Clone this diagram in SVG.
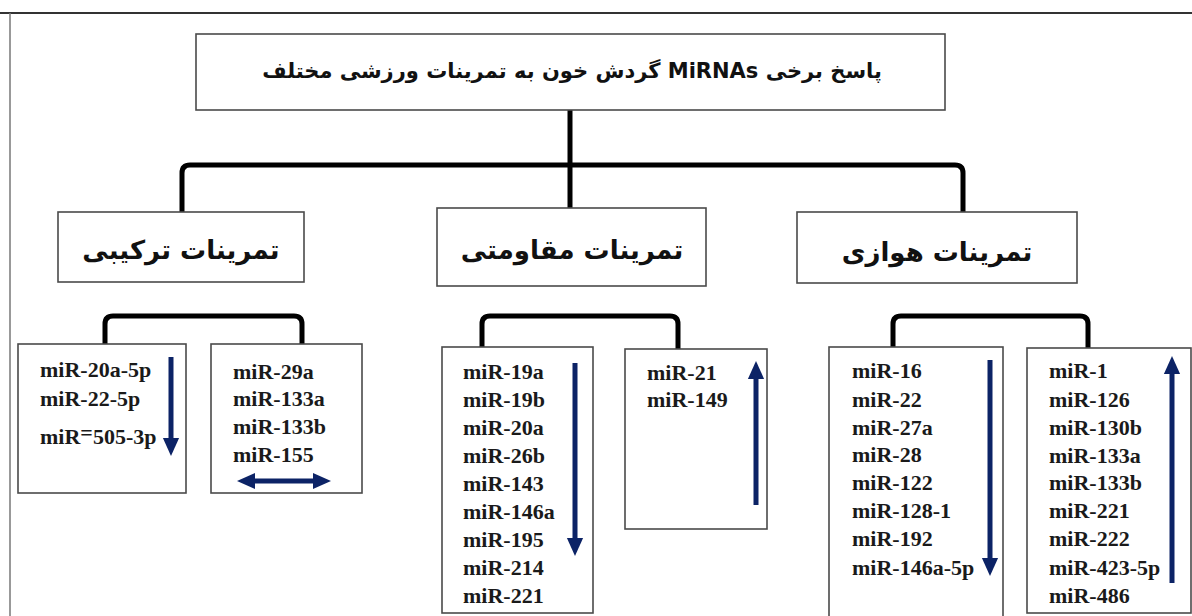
<svg xmlns="http://www.w3.org/2000/svg" width="1192" height="616" viewBox="0 0 1192 616">
<style>
.box{fill:#fff;stroke:#4a4a4a;stroke-width:1.6}
.conn{fill:none;stroke:#000;stroke-width:5;stroke-linejoin:round}
.fa{font-family:"DejaVu Sans",sans-serif;font-weight:bold;fill:#111;text-anchor:middle;direction:rtl}
.mir{font-family:"Liberation Serif","Times New Roman",serif;font-weight:bold;font-size:22px;fill:#1a1a1a}
.arr{stroke:#0c2366;stroke-width:5;fill:none}
</style>
<defs>
<marker id="ah" viewBox="0 0 20 20" refX="10" refY="10" markerWidth="20" markerHeight="18" markerUnits="userSpaceOnUse" orient="auto-start-reverse">
<path d="M0,1 L20,10 L0,19 Z" fill="#0c2366"/>
</marker>
</defs>
<rect width="1192" height="616" fill="#fff"/>
<g id="frame">
<line x1="0" y1="13" x2="1192" y2="13" stroke="#333" stroke-width="2"/>
<line x1="10" y1="13" x2="10" y2="616" stroke="#777" stroke-width="1.5"/>
</g>
<g id="connectors">
<path class="conn" d="M570,110 V208"/>
<path class="conn" d="M182,212 V173 Q182,165 190,165 H955 Q963,165 963,173 V212"/>
<path class="conn" d="M105,344 V324 Q105,316 113,316 H294 Q302,316 302,324 V344"/>
<path class="conn" d="M482,347 V324 Q482,316 490,316 H670 Q678,316 678,324 V349"/>
<path class="conn" d="M893,347 V324 Q893,316 901,316 H1080 Q1088,316 1088,324 V348"/>
</g>
<g id="title">
<rect class="box" x="196" y="34" width="749" height="76"/>
<text class="fa" x="572" y="78" font-size="21">پاسخ برخی MiRNAs گردش خون به تمرینات ورزشی مختلف</text>
</g>
<g id="combined">
<rect class="box" x="58" y="212" width="246" height="70"/>
<text class="fa" x="181" y="259" font-size="26">تمرینات ترکیبی</text>
</g>
<g id="resistance">
<rect class="box" x="437" y="208" width="269" height="78"/>
<text class="fa" x="572" y="259" font-size="26">تمرینات مقاومتی</text>
</g>
<g id="aerobic">
<rect class="box" x="797" y="212" width="280" height="71"/>
<text class="fa" x="937" y="261" font-size="26">تمرینات هوازی</text>
</g>
<g id="combined-down">
<rect class="box" x="18" y="344" width="168" height="149"/>
<text class="mir" x="40" y="377">miR-20a-5p</text>
<text class="mir" x="40" y="406">miR-22-5p</text>
<text class="mir" x="40" y="444">miR<tspan dy="-4">=</tspan><tspan dy="4">505-3p</tspan></text>
<line class="arr" x1="171" y1="357" x2="171" y2="447" marker-end="url(#ah)"/>
</g>
<g id="combined-nochange">
<rect class="box" x="211" y="344" width="151" height="149"/>
<text class="mir" x="233" y="379">miR-29a</text>
<text class="mir" x="233" y="406">miR-133a</text>
<text class="mir" x="233" y="434">miR-133b</text>
<text class="mir" x="233" y="462">miR-155</text>
<line class="arr" x1="246" y1="481" x2="322" y2="481" stroke-width="4" marker-start="url(#ah)" marker-end="url(#ah)"/>
</g>
<g id="resistance-down">
<rect class="box" x="442" y="347" width="151" height="266"/>
<text class="mir" x="463" y="379">miR-19a</text>
<text class="mir" x="463" y="407">miR-19b</text>
<text class="mir" x="463" y="435">miR-20a</text>
<text class="mir" x="463" y="463">miR-26b</text>
<text class="mir" x="463" y="491">miR-143</text>
<text class="mir" x="463" y="519">miR-146a</text>
<text class="mir" x="463" y="547">miR-195</text>
<text class="mir" x="463" y="575">miR-214</text>
<text class="mir" x="463" y="603">miR-221</text>
<line class="arr" x1="575" y1="363" x2="575" y2="547" marker-end="url(#ah)"/>
</g>
<g id="resistance-up">
<rect class="box" x="625" y="349" width="142" height="180"/>
<text class="mir" x="647" y="380">miR-21</text>
<text class="mir" x="647" y="407">miR-149</text>
<line class="arr" x1="756" y1="505" x2="756" y2="370" marker-end="url(#ah)"/>
</g>
<g id="aerobic-down">
<rect class="box" x="829" y="347" width="174" height="280"/>
<text class="mir" x="852" y="378">miR-16</text>
<text class="mir" x="852" y="407">miR-22</text>
<text class="mir" x="852" y="435">miR-27a</text>
<text class="mir" x="852" y="462">miR-28</text>
<text class="mir" x="852" y="490">miR-122</text>
<text class="mir" x="852" y="518">miR-128-1</text>
<text class="mir" x="852" y="546">miR-192</text>
<text class="mir" x="852" y="575">miR-146a-5p</text>
<line class="arr" x1="990" y1="360" x2="990" y2="567" marker-end="url(#ah)"/>
</g>
<g id="aerobic-up">
<rect class="box" x="1027" y="348" width="164" height="265"/>
<text class="mir" x="1049" y="378">miR-1</text>
<text class="mir" x="1049" y="407">miR-126</text>
<text class="mir" x="1049" y="435">miR-130b</text>
<text class="mir" x="1049" y="463">miR-133a</text>
<text class="mir" x="1049" y="490">miR-133b</text>
<text class="mir" x="1049" y="518">miR-221</text>
<text class="mir" x="1049" y="546">miR-222</text>
<text class="mir" x="1049" y="575">miR-423-5p</text>
<text class="mir" x="1049" y="603">miR-486</text>
<line class="arr" x1="1172" y1="583" x2="1172" y2="365" marker-end="url(#ah)"/>
</g>
</svg>
